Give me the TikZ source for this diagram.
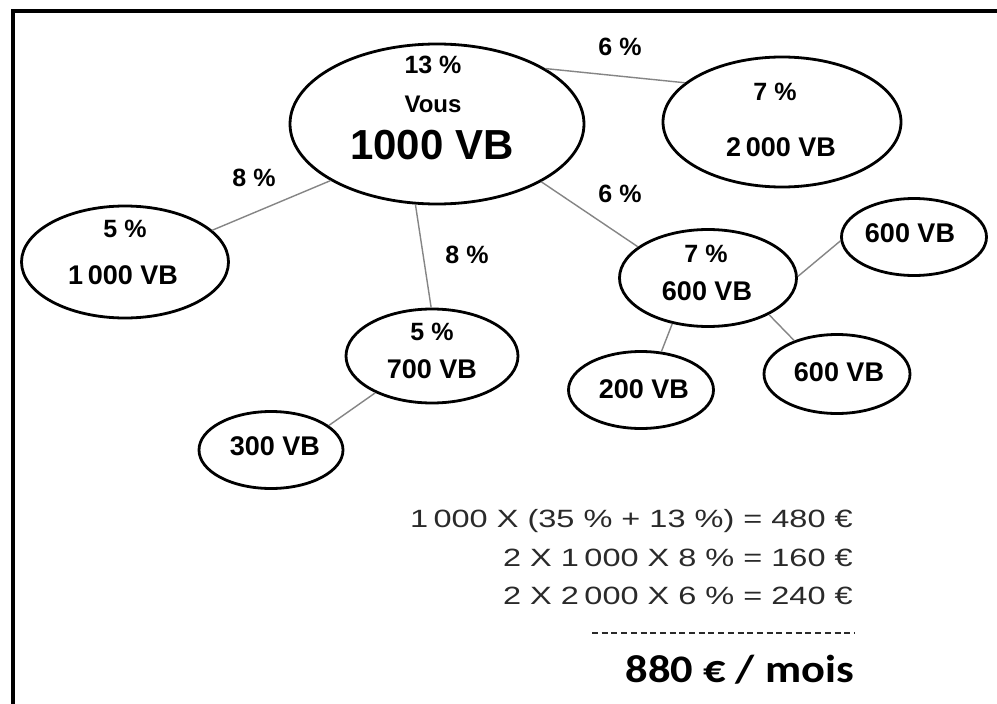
\documentclass[tikz,border=0pt]{standalone}
\usepackage{fontspec}
\setmainfont{Liberation Sans}
\newfontfamily\calib{Carlito}
\usetikzlibrary{shapes.geometric}
\definecolor{linkgray}{HTML}{858585}
\definecolor{formgray}{HTML}{2A2A2A}
\tikzset{
  bubble/.style={ellipse, draw=black, line width=2.8pt, inner sep=0pt, fill=white},
  link/.style={draw=linkgray, line width=1.4pt},
  pct/.style={anchor=base, inner sep=0pt, font=\fontsize{25}{29}\selectfont\bfseries},
  vbtext/.style={anchor=base, inner sep=0pt, font=\fontsize{27}{31}\selectfont\bfseries},
  formula/.style={anchor=base east, inner sep=0pt, text=formgray, font=\fontsize{25}{30}\selectfont},
  frame/.style={line width=4pt, black}
}
\begin{document}
\begin{tikzpicture}[x=1pt,y=-1pt]
\useasboundingbox (0,0) rectangle (997,704);
\fill[white] (0,0) rectangle (997,704);
% frame (top and left only)
\coordinate (ftl) at (12.7,11.3);
\coordinate (ftr) at (997,11.3);
\coordinate (fbl) at (12.7,704);
\draw[frame] (ftr) -- (10.7,11.3);
\draw[frame] (12.7,9.3) -- (fbl);

% bubbles
\node[bubble, minimum width=294pt, minimum height=160pt] (vous) at (437,124) {};
\node[bubble, minimum width=238pt, minimum height=130pt] (deux) at (782,122) {};
\node[bubble, minimum width=207pt, minimum height=112pt] (gauche) at (125,262) {};
\node[bubble, minimum width=172pt, minimum height=94pt] (sept) at (432,356) {};
\node[bubble, minimum width=144pt, minimum height=77pt] (trois) at (271,450) {};
\node[bubble, minimum width=177pt, minimum height=97pt] (milieu) at (708,278) {};
\node[bubble, minimum width=145pt, minimum height=77pt] (haut) at (914,237) {};
\node[bubble, minimum width=146pt, minimum height=79pt] (bas) at (837,374) {};
\node[bubble, minimum width=145pt, minimum height=77pt] (deuxcent) at (641,390) {};

% connectors
\draw[link] (vous.27) -- (deux.158.6);
\draw[link] (vous.208.8) -- (gauche.20.7);
\draw[link] (vous.255.2) -- (sept.91);
\draw[link] (vous.331.8) -- (milieu.156.3);
\draw[link] (sept.213.5) -- (trois.23.5);
\draw[link] (milieu.1) -- (haut.183.8);
\draw[link] (milieu.232.2) -- (deuxcent.62.3);
\draw[link] (milieu.329.8) -- (bas.142.5);

% texts in bubbles
\node[pct] (t13) at (433,73) {13 \%};
\node[anchor=base, inner sep=0pt, font=\fontsize{24}{28}\selectfont\bfseries] (tvous) at (433,112) {Vous};
\node[anchor=base, inner sep=0pt, font=\fontsize{42}{48}\selectfont\bfseries] (tmille) at (432,159) {1000 VB};
\node[pct] (t7a) at (775,100) {7 \%};
\node[vbtext] (t2000) at (781,156) {2\hspace{0.18em}000 VB};
\node[pct] (t5a) at (125,237) {5 \%};
\node[vbtext] (t1000) at (123,284) {1\hspace{0.18em}000 VB};
\node[pct] (t5b) at (432,340) {5 \%};
\node[vbtext] (t700) at (432,378) {700 VB};
\node[vbtext] (t300) at (275,455) {300 VB};
\node[pct] (t7b) at (706,262) {7 \%};
\node[vbtext] (t600a) at (707,300) {600 VB};
\node[vbtext] (t600b) at (910,242) {600 VB};
\node[vbtext] (t600c) at (839,381) {600 VB};
\node[vbtext] (t200) at (644,398) {200 VB};

% edge labels
\node[pct] (e6a) at (620,56) {6 \%};
\node[pct] (e8a) at (254,186) {8 \%};
\node[pct] (e6b) at (620,202) {6 \%};
\node[pct] (e8b) at (467,263) {8 \%};

% formulas
\node[formula] (f1) at (853,527) {\scalebox{1.3}[1]{1\,000 X (35 \% + 13 \%) = 480 €}};
\node[formula] (f2) at (853,566) {\scalebox{1.3}[1]{2 X 1\,000 X 8 \% = 160 €}};
\node[formula] (f3) at (853,604) {\scalebox{1.3}[1]{2 X 2\,000 X 6 \% = 240 €}};
\coordinate (dl) at (592,633);
\coordinate (dr) at (855,633);
\draw[formgray, line width=2.2pt, dash pattern=on 6pt off 3.7pt] (dl) -- (dr);
\node[anchor=base east, inner sep=0pt, font=\calib\fontsize{39}{44}\selectfont\bfseries] (total) at (854,682) {\scalebox{1.14}[1]{880 € / mois}};
\end{tikzpicture}
\end{document}
